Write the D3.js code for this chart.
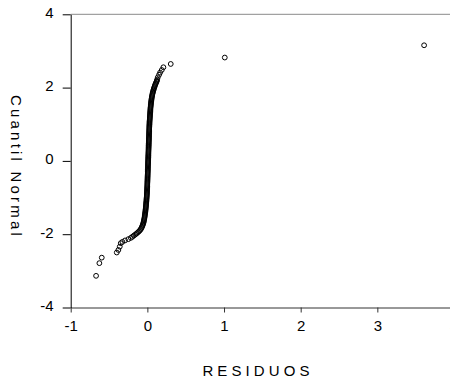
<!DOCTYPE html>
<html>
<head>
<meta charset="utf-8">
<script src="https://cdn.jsdelivr.net/npm/d3@7"></script>
<style>
  html, body { margin: 0; padding: 0; background: #fff; }
  svg { display: block; font-family: "Liberation Sans", Arial, sans-serif; }
</style>
</head>
<body>
<svg id="chart" width="450" height="381"></svg>
<script>
// Normal Q-Q plot of regression residuals (EViews style)
const xTicks = [-1, 0, 1, 2, 3, 4];
const yTicks = [-4, -2, 0, 2, 4];

// lower tail (sparse points)
const lowQuantile = [-3.136, -2.79, -2.64, -2.50, -2.43, -2.34, -2.245, -2.21, -2.17, -2.135];
const lowResidual = [-0.669, -0.626, -0.595, -0.399, -0.378, -0.360, -0.347, -0.326, -0.291, -0.248];

// central body of the distribution
const bodyQuantile = [
  -2.10, -2.07, -2.04, -2.01, -1.98, -1.95, -1.92, -1.89, -1.86, -1.83, -1.80,
  -1.77, -1.74, -1.71, -1.68, -1.65, -1.62, -1.59, -1.56, -1.53, -1.50,
  -1.47, -1.44, -1.41, -1.38, -1.35, -1.32, -1.29, -1.26, -1.23, -1.20,
  -1.17, -1.14, -1.11, -1.08, -1.05, -1.02, -0.99, -0.96, -0.93, -0.90,
  -0.87, -0.84, -0.81, -0.78, -0.75, -0.72, -0.69, -0.66, -0.63, -0.60,
  -0.57, -0.54, -0.51, -0.48, -0.45, -0.42, -0.39, -0.36, -0.33, -0.30,
  -0.27, -0.24, -0.21, -0.18, -0.15, -0.12, -0.09, -0.06, -0.03, 0.00,
  0.03, 0.06, 0.09, 0.12, 0.15, 0.18, 0.21, 0.24, 0.27, 0.30,
  0.33, 0.36, 0.39, 0.42, 0.45, 0.48, 0.51, 0.54, 0.57, 0.60,
  0.63, 0.66, 0.69, 0.72, 0.75, 0.78, 0.81, 0.84, 0.87, 0.90,
  0.93, 0.96, 0.99, 1.02, 1.05, 1.08, 1.11, 1.14, 1.17, 1.20,
  1.23, 1.26, 1.29, 1.32, 1.35, 1.38, 1.41, 1.44, 1.47, 1.50,
  1.53, 1.56, 1.59, 1.62, 1.65, 1.68, 1.71, 1.74, 1.77, 1.80,
  1.83, 1.86, 1.89, 1.92, 1.95, 1.98, 2.01, 2.04, 2.07, 2.10,
  2.13, 2.16, 2.19
];
const bodyResidual = [
  -0.215, -0.196, -0.177, -0.158, -0.140, -0.123, -0.108, -0.095, -0.085, -0.077, -0.070,
  -0.064, -0.059, -0.054, -0.050, -0.047, -0.044, -0.041, -0.038, -0.036, -0.034,
  -0.032, -0.030, -0.028, -0.026, -0.024, -0.023, -0.021, -0.020, -0.018, -0.017,
  -0.016, -0.015, -0.013, -0.012, -0.011, -0.010, -0.009, -0.008, -0.007, -0.006,
  -0.005, -0.005, -0.004, -0.003, -0.003, -0.002, -0.001, -0.001, 0.000, 0.000,
  0.001, 0.001, 0.002, 0.002, 0.003, 0.003, 0.004, 0.004, 0.005, 0.005,
  0.006, 0.006, 0.007, 0.007, 0.008, 0.008, 0.009, 0.009, 0.010, 0.010,
  0.011, 0.011, 0.012, 0.012, 0.013, 0.013, 0.014, 0.014, 0.015, 0.015,
  0.016, 0.016, 0.017, 0.017, 0.018, 0.018, 0.019, 0.019, 0.020, 0.020,
  0.021, 0.021, 0.022, 0.022, 0.023, 0.023, 0.024, 0.024, 0.025, 0.025,
  0.026, 0.026, 0.027, 0.028, 0.028, 0.029, 0.030, 0.031, 0.032, 0.033,
  0.034, 0.035, 0.036, 0.037, 0.038, 0.039, 0.040, 0.041, 0.042, 0.044,
  0.045, 0.047, 0.048, 0.050, 0.052, 0.054, 0.056, 0.058, 0.061, 0.064,
  0.067, 0.070, 0.074, 0.078, 0.082, 0.086, 0.091, 0.096, 0.101, 0.107,
  0.113, 0.119, 0.125
];

// upper tail (sparse points)
const highQuantile = [2.22, 2.28, 2.35, 2.41, 2.48, 2.555, 2.645, 2.82, 3.155];
const highResidual = [0.128, 0.136, 0.153, 0.166, 0.188, 0.209, 0.305, 1.01, 3.61];

const points = []
  .concat(lowQuantile.map((q, i) => ({ q, r: lowResidual[i] })))
  .concat(bodyQuantile.map((q, i) => ({ q, r: bodyResidual[i] })))
  .concat(highQuantile.map((q, i) => ({ q, r: highResidual[i] })));

const svg = d3.select("#chart");
const plotLeft = 70.7, plotTop = 14.3, plotBottom = 307.5, plotRight = 454;

const x = d3.scaleLinear().domain([-1, 4]).range([plotLeft, plotRight]);
const y = d3.scaleLinear().domain([-4, 4]).range([plotBottom, plotTop]);

// top frame line
svg.append("line")
  .attr("x1", plotLeft).attr("x2", 450)
  .attr("y1", plotTop).attr("y2", plotTop)
  .attr("stroke", "#8a8a8a").attr("stroke-width", 1);

// x axis (the last label, 4, runs past the right edge)
const gx = svg.append("g")
  .attr("transform", `translate(0,${plotBottom})`)
  .call(d3.axisBottom(x).tickValues(xTicks).tickFormat(d => String(d))
    .tickSize(5).tickSizeOuter(0).tickPadding(8));
gx.select(".domain").attr("stroke", "#333");
gx.selectAll(".tick line").attr("stroke", "#333");
gx.selectAll("text").attr("font-size", 15).attr("fill", "#000")
  .attr("font-family", "Liberation Sans, Arial, sans-serif");

// y axis
const gy = svg.append("g")
  .attr("transform", `translate(${plotLeft},0)`)
  .call(d3.axisLeft(y).tickValues(yTicks).tickFormat(d => String(d))
    .tickSize(8).tickSizeOuter(0).tickPadding(9));
gy.select(".domain").attr("stroke", "#000");
gy.selectAll(".tick line").attr("stroke", "#000");
gy.selectAll("text").attr("font-size", 15).attr("fill", "#000").attr("dy", "0.2em")
  .attr("font-family", "Liberation Sans, Arial, sans-serif");

// points
svg.append("g")
  .selectAll("circle")
  .data(points)
  .join("circle")
  .attr("cx", d => x(d.r))
  .attr("cy", d => y(d.q))
  .attr("r", 2.4)
  .attr("fill", "none")
  .attr("stroke", "#000")
  .attr("stroke-width", 1);

// axis titles
svg.append("text")
  .attr("transform", "translate(10.5,167) rotate(90)")
  .attr("text-anchor", "middle")
  .attr("font-size", 15)
  .attr("letter-spacing", "3.2px")
  .attr("fill", "#000")
  .text("Cuantil Normal");

svg.append("text")
  .attr("x", 258)
  .attr("y", 376)
  .attr("text-anchor", "middle")
  .attr("font-size", 15)
  .attr("letter-spacing", "4.1px")
  .attr("fill", "#000")
  .text("RESIDUOS");
</script>
</body>
</html>
